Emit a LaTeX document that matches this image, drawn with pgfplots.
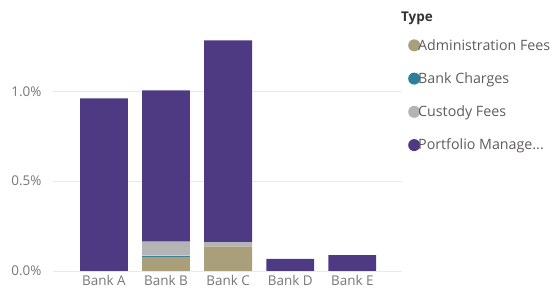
\documentclass[border=0pt]{standalone}
\usepackage{pgfplots}
\pgfplotsset{compat=1.18}
\usepackage{fontspec}
\setmainfont{Open Sans}
\definecolor{adm}{HTML}{A99F7A}
\definecolor{bch}{HTML}{2B7F9B}
\definecolor{cus}{HTML}{B4B4B4}
\definecolor{pm}{HTML}{4E3A82}
\definecolor{tickc}{HTML}{777777}
\definecolor{legc}{HTML}{605E5C}
\definecolor{gridc}{HTML}{E9E9E9}
\begin{document}
\begin{tikzpicture}
\useasboundingbox (0,0) rectangle (555bp,296bp);
\node[anchor=west, inner sep=0pt, font=\fontsize{13.5}{15}\selectfont\bfseries, text=black!80] at (401bp,278bp) {Type};
\begin{axis}[
  at={(53bp,25bp)}, anchor=south west,
  scale only axis, width=349bp, height=248bp,
  ybar stacked, bar width=0.77,
  xmin=-0.82, xmax=4.8, ymin=0, ymax=1.38,
  axis line style={draw=none},
  xtick={0,1,2,3,4},
  xticklabels={Bank A,Bank B,Bank C,Bank D,Bank E},
  ytick={0,0.5,1.0},
  yticklabel={\pgfmathprintnumber[fixed,fixed zerofill,precision=1]{\tick}\%},
  /pgf/number format/assume math mode=true,
  tick style={draw=none},
  xmajorgrids=false, ymajorgrids=true, grid style={draw=gridc, line width=0.8pt},
  tick label style={font=\fontsize{13.5}{15}\selectfont, text=tickc},
  yticklabel style={xshift=-8pt},
  xticklabel style={yshift=-1pt},
  legend style={draw=none, at={(1.0,1.0)}, anchor=north west, xshift=6bp, yshift=-14bp,
    font=\fontsize{14.3}{16}\selectfont\color{legc}, row sep=17pt, inner sep=0pt},
  legend cell align=left,
  legend image code/.code={\fill[#1] (0.3em,0.0em) circle (6bp);},
]
\addplot[fill=adm, draw=none] coordinates {(0,0) (1,0.078) (2,0.135) (3,0) (4,0)};
\addlegendentry{\hspace{-4pt}Administration Fees}
\addplot[fill=bch, draw=none] coordinates {(0,0) (1,0.007) (2,0) (3,0) (4,0)};
\addlegendentry{\hspace{-4pt}Bank Charges}
\addplot[fill=cus, draw=none] coordinates {(0,0) (1,0.078) (2,0.025) (3,0) (4,0)};
\addlegendentry{\hspace{-4pt}Custody Fees}
\addplot[fill=pm, draw=none] coordinates {(0,0.961) (1,0.842) (2,1.123) (3,0.067) (4,0.089)};
\addlegendentry{\hspace{-4pt}Portfolio Manage...}
\end{axis}
\end{tikzpicture}
\end{document}
